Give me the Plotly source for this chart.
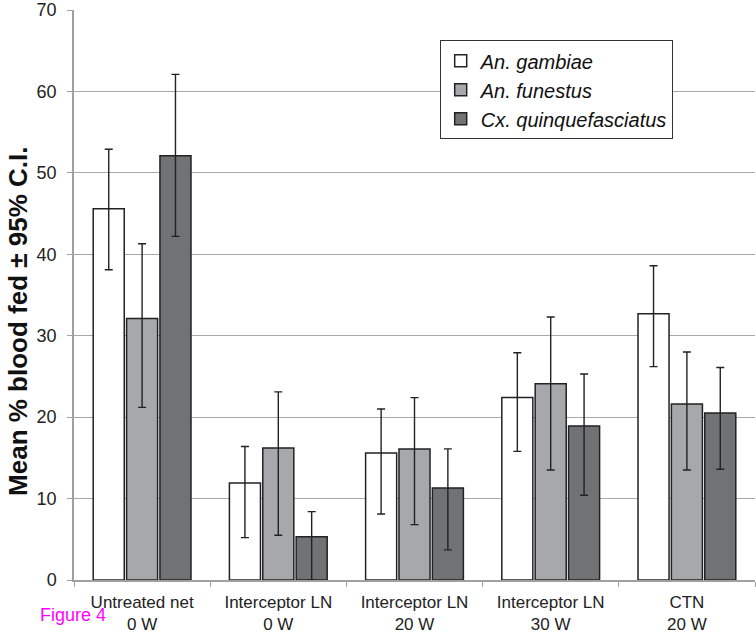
import plotly.graph_objects as go

categories = ["Untreated net<br>0 W", "Interceptor LN<br>0 W", "Interceptor LN<br>20 W",
              "Interceptor LN<br>30 W", "CTN<br>20 W"]
series_names = ["An. gambiae", "An. funestus", "Cx. quinquefasciatus"]

gambiae_mean = [45.6, 11.9, 15.6, 22.4, 32.7]
gambiae_upper = [52.9, 16.4, 21.0, 27.9, 38.6]
gambiae_lower = [38.1, 5.2, 8.1, 15.8, 26.2]

funestus_mean = [32.1, 16.2, 16.1, 24.1, 21.6]
funestus_upper = [41.3, 23.1, 22.4, 32.3, 28.0]
funestus_lower = [21.2, 5.5, 6.8, 13.5, 13.5]

quinque_mean = [52.1, 5.3, 11.3, 18.9, 20.5]
quinque_upper = [62.1, 8.4, 16.1, 25.3, 26.1]
quinque_lower = [42.2, 0.0, 3.7, 10.4, 13.6]

y_ticks = [0, 10, 20, 30, 40, 50, 60, 70]

colors = ["#ffffff", "#a7a8ab", "#717276"]
series = [
    (gambiae_mean, gambiae_upper, gambiae_lower),
    (funestus_mean, funestus_upper, funestus_lower),
    (quinque_mean, quinque_upper, quinque_lower),
]

FONT = "Liberation Sans, Arial, sans-serif"

fig = go.Figure()
for name, (m, up, lo), c in zip(series_names, series, colors):
    fig.add_trace(go.Bar(
        x=categories, y=m, name=f"<i>{name}</i>",
        legendgroup=name,
        marker=dict(color=c, line=dict(color="#222222", width=1.5)),
        error_y=dict(type="data", symmetric=False,
                     array=[u - v for u, v in zip(up, m)],
                     arrayminus=[v - l for v, l in zip(m, lo)],
                     color="#222222", thickness=1.4, width=4),
    ))

fig.update_layout(
    width=756, height=636,
    margin=dict(l=74, r=1, t=10, b=56),
    paper_bgcolor="white", plot_bgcolor="white",
    barmode="group", bargap=0.265, bargroupgap=0.07,
    font=dict(family=FONT, size=17, color="#222222"),
    showlegend=True,
    legend=dict(x=0.537, y=0.947, xanchor="left", yanchor="top",
                bgcolor="white", bordercolor="#333333", borderwidth=1,
                font=dict(family=FONT, size=20, color="#111111"),
                tracegroupgap=0, itemclick=False),
    xaxis=dict(type="category", tickson="boundaries", ticks="outside", ticklen=5,
               tickcolor="#a0a0a0", showline=True, linecolor="#a0a0a0", linewidth=1.5,
               showgrid=False, ticklabelstandoff=6,
               tickfont=dict(size=17, color="#222222")),
    yaxis=dict(range=[0, 70], tickvals=y_ticks, ticks="outside", ticklen=5,
               tickcolor="#a0a0a0", showline=True, linecolor="#a0a0a0", linewidth=1.5,
               showgrid=True, gridcolor="#a8a8a8", gridwidth=1, zeroline=False,
               ticklabelstandoff=7,
               tickfont=dict(size=18, color="#222222")),
)

fig.add_annotation(text="<b>Mean % blood fed ± 95% C.I.</b>", xref="paper", yref="paper",
                   x=-0.082, y=0.453, xanchor="center", yanchor="middle", textangle=-90,
                   showarrow=False, font=dict(family=FONT, size=26, color="#111111"))
fig.add_annotation(text="Figure 4", xref="paper", yref="paper",
                   x=-0.053, y=-0.061, xanchor="left", yanchor="middle",
                   showarrow=False, font=dict(family=FONT, size=18, color="#ff00ff"))

fig.write_html("out.html", config={"displayModeBar": False},
               post_script="document.body.style.margin='0px';")
